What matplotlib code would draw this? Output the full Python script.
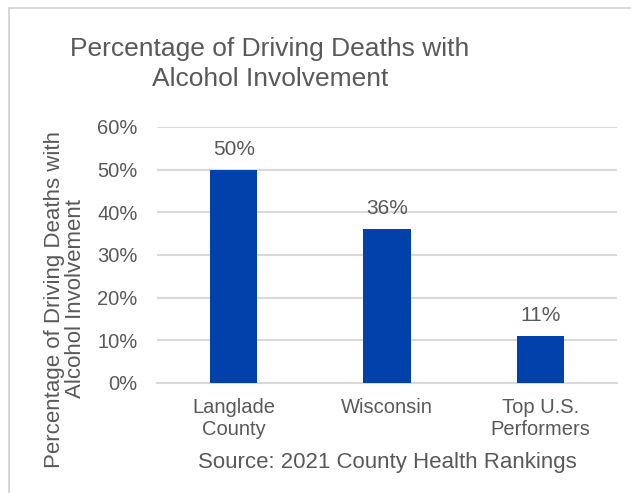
import matplotlib
matplotlib.use("Agg")
import matplotlib.pyplot as plt
from matplotlib.ticker import FuncFormatter
from matplotlib.patches import Rectangle

plt.rcParams['font.family'] = ['Liberation Sans', 'DejaVu Sans']

categories = ["Langlade\nCounty", "Wisconsin", "Top U.S.\nPerformers"]
values = [0.50, 0.36, 0.11]
value_labels = ["50%", "36%", "11%"]
yticks = [0, 0.1, 0.2, 0.3, 0.4, 0.5, 0.6]

text_color = "#595959"
bar_color = "#0041AB"
grid_color = "#D9D9D9"

W, H = 631, 493
fig = plt.figure(figsize=(W / 100, H / 100), dpi=100)
fig.patch.set_facecolor("white")

# outer border (chart frame)
fig.add_artist(Rectangle((9 / W, -0.1), 1.2, 1 - 8 / H + 0.1, transform=fig.transFigure,
                         fill=False, edgecolor="#D0D0D0", linewidth=1.2))

ax = fig.add_axes([157 / W, 1 - 383 / H, (617 - 157) / W, (383 - 127) / H])
x = list(range(len(categories)))
bars = ax.bar(x, values, width=0.31, color=bar_color, zorder=3)
ax.set_xlim(-0.5, len(categories) - 0.5)
ax.set_ylim(0, 0.6)
ax.set_yticks(yticks)
ax.yaxis.set_major_formatter(FuncFormatter(lambda v, p: f"{v*100:.0f}%"))
ax.grid(axis="y", color=grid_color, linewidth=1.5, zorder=0)
ax.set_axisbelow(True)
for s in ["top", "right", "left"]:
    ax.spines[s].set_visible(False)
ax.spines["bottom"].set_color(grid_color)
ax.spines["bottom"].set_linewidth(1.5)
ax.tick_params(axis="both", length=0, labelsize=14.5, labelcolor=text_color)
ax.tick_params(axis="y", pad=14)
ax.tick_params(axis="x", pad=11)
ax.set_xticks(x)
ax.set_xticklabels(categories, linespacing=1.2)
for xi, v, lab in zip(x, values, value_labels):
    ax.annotate(lab, (xi, v), xytext=(0, 8), textcoords="offset points",
                ha="center", va="bottom", fontsize=15, color=text_color)

ax.set_xlabel("Source: 2021 County Health Rankings", fontsize=16, color=text_color, labelpad=9)

fig.text(270 / W, 1 - 64 / H, "Percentage of Driving Deaths with\nAlcohol Involvement",
         ha="center", va="center", fontsize=19, color=text_color, linespacing=1.35)
fig.text(65 / W, 1 - 299 / H, "Percentage of Driving Deaths with\nAlcohol Involvement",
         ha="center", va="center", rotation=90, fontsize=16, color=text_color, linespacing=1.05)

fig.savefig("out.png", dpi=100, facecolor="white")
